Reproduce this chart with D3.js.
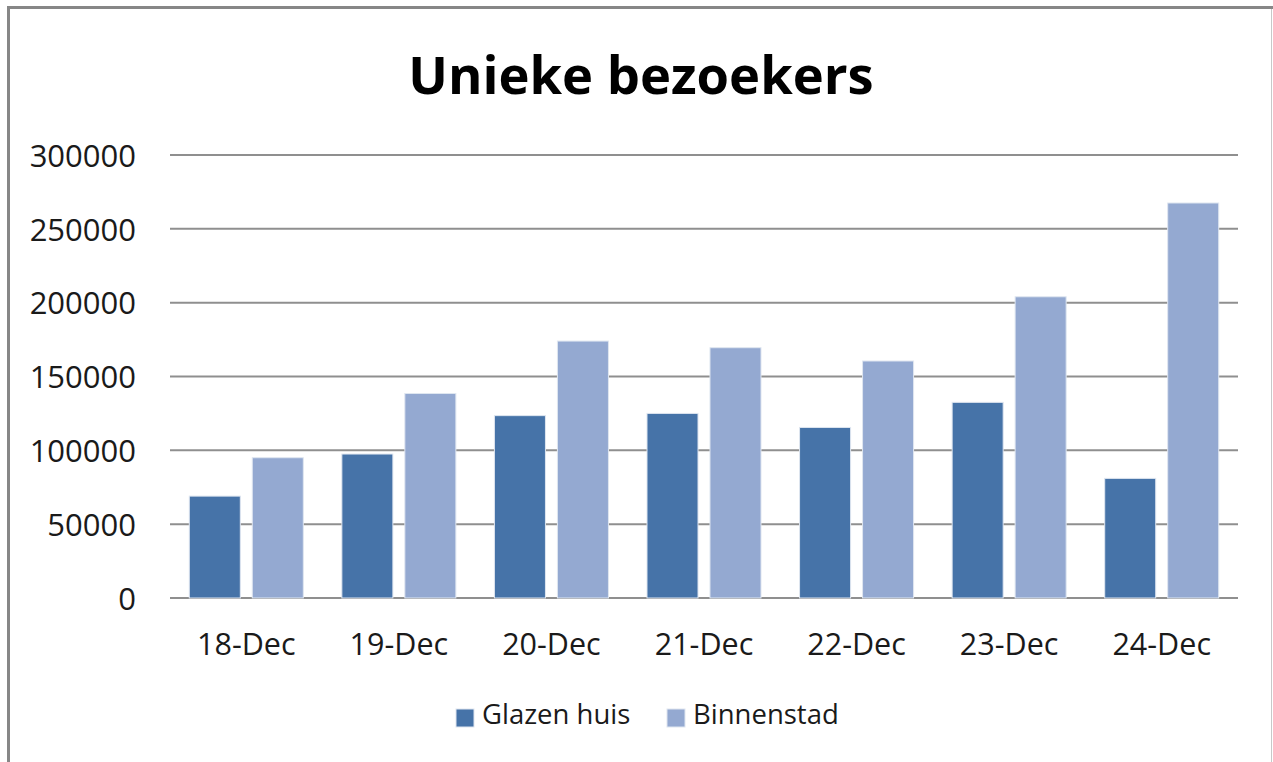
<!DOCTYPE html>
<html><head><meta charset="utf-8">
<script src="https://cdn.jsdelivr.net/npm/d3@7"></script>
<style>body{margin:0;background:#fff}svg{display:block}</style>
</head><body>
<svg id="c" width="1273" height="762"></svg>
<script>
const categories = ["18-Dec","19-Dec","20-Dec","21-Dec","22-Dec","23-Dec","24-Dec"];
const seriesNames = ["Glazen huis","Binnenstad"];
const glazenHuis = [69000, 97500, 123500, 125000, 115500, 132500, 81000];
const binnenstad = [95000, 138500, 174000, 169500, 160500, 204000, 267500];
const yTicks = [0, 50000, 100000, 150000, 200000, 250000, 300000];
const colors = ["#4673A8", "#94A9D1"];
const title = "Unieke bezoekers";

const font = "'Open Sans', sans-serif";
const svg = d3.select("#c");

// frame
svg.append("rect").attr("x",0).attr("y",0).attr("width",1273).attr("height",762).attr("fill","#fff");
svg.append("line").attr("x1",8.5).attr("x2",8.5).attr("y1",7).attr("y2",762).attr("stroke","#878787").attr("stroke-width",3);
svg.append("line").attr("x1",7).attr("x2",1273).attr("y1",7.5).attr("y2",7.5).attr("stroke","#878787").attr("stroke-width",3);
svg.append("line").attr("x1",1271.5).attr("x2",1271.5).attr("y1",9).attr("y2",762).attr("stroke","#c8c8c8").attr("stroke-width",1);

const x0 = d3.scaleBand().domain(categories).range([170, 1238]).paddingInner(0.2527).paddingOuter(0.1264);
const y = d3.scaleLinear().domain([0, 300000]).range([598, 155]);

// gridlines
svg.append("g").selectAll("line").data(yTicks).join("line")
  .attr("x1",170).attr("x2",1238).attr("y1",d=>y(d)).attr("y2",d=>y(d))
  .attr("stroke","#8f8f8f").attr("stroke-width",2);

// y axis labels
const yAxis = d3.axisLeft(y).tickValues(yTicks).tickSize(0).tickPadding(0).tickFormat(d3.format("d"));
const ya = svg.append("g").attr("transform","translate(136,0)").call(yAxis);
ya.select(".domain").remove();
ya.selectAll("text").attr("font-family",font).attr("font-size",31).attr("fill","#1a1a1a").attr("dy","0.36em");

// x axis labels
const xAxis = d3.axisBottom(x0).tickSize(0).tickPadding(0);
const xa = svg.append("g").attr("transform","translate(0,598)").call(xAxis);
xa.select(".domain").remove();
xa.selectAll("text").attr("font-family",font).attr("font-size",30.5).attr("fill","#1a1a1a").attr("dy",null).attr("y",57);

// bars
const data = categories.map((c,i)=>({c, vals:[glazenHuis[i], binnenstad[i]]}));
const x1 = d3.scaleBand().domain([0,1]).range([0, x0.bandwidth()]).paddingInner(0.19);
const g = svg.append("g").selectAll("g").data(data).join("g")
  .attr("transform", d=>`translate(${x0(d.c)},0)`);
g.selectAll("rect").data(d=>d.vals.map((v,k)=>({v,k}))).join("rect")
  .attr("x", d=>x1(d.k)).attr("width", x1.bandwidth())
  .attr("y", d=>y(d.v)).attr("height", d=>y(0)-y(d.v))
  .attr("fill", d=>colors[d.k]).attr("stroke","#dfe6f0").attr("stroke-width",1);

// title
svg.append("text").attr("x",641).attr("y",94).attr("text-anchor","middle")
  .attr("font-family",font).attr("font-weight","bold").attr("font-size",52.5).attr("fill","#000").text(title);

// legend
const legX = [456, 667];
const lg = svg.append("g").selectAll("g").data(seriesNames).join("g")
  .attr("transform",(d,i)=>`translate(${legX[i]},709)`);
lg.append("rect").attr("width",18).attr("height",18).attr("fill",(d,i)=>colors[i]).attr("stroke","#dfe6f0").attr("stroke-width",1);
lg.append("text").attr("x",26).attr("y",15).attr("font-family",font).attr("font-size",27.5).attr("fill","#1a1a1a").text(d=>d);
</script>
</body></html>
